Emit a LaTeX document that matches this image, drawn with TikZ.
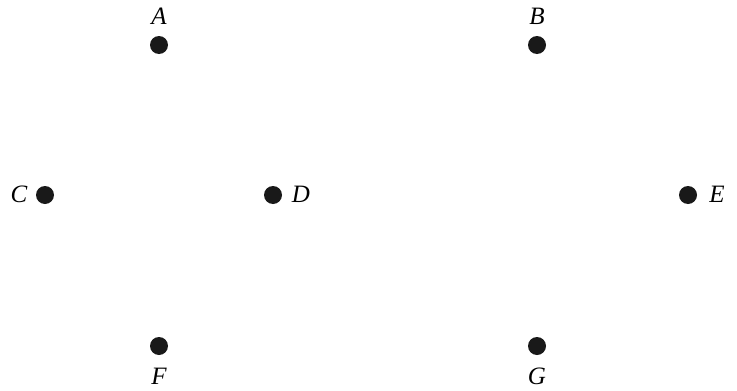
\documentclass[tikz,border=0pt]{standalone}
\usepackage{fontspec}
\setmainfont{Liberation Serif}[ItalicFont={Liberation Serif Italic}]
\begin{document}
\begin{tikzpicture}[x=1pt,y=-1pt,
  dot/.style={circle,fill=black!90,inner sep=0pt,minimum size=18pt},
  lbl/.style={inner sep=0pt,font=\fontsize{25}{25}\selectfont\itshape}]
\useasboundingbox (0,0) rectangle (737,391);
\node[dot] (A) at (159,45) {};
\node[dot] (B) at (537,45) {};
\node[dot] (C) at (45,195) {};
\node[dot] (D) at (273,195) {};
\node[dot] (E) at (688,195) {};
\node[dot] (F) at (159,346) {};
\node[dot] (G) at (537,346) {};
\node[lbl] (lA) at (159,16) {A};
\node[lbl] (lB) at (537,16) {B};
\node[lbl] (lC) at (19,194) {C};
\node[lbl] (lD) at (301,194) {D};
\node[lbl] (lE) at (717,194) {E};
\node[lbl] (lF) at (159,376) {F};
\node[lbl] (lG) at (537,376) {G};
\end{tikzpicture}
\end{document}
